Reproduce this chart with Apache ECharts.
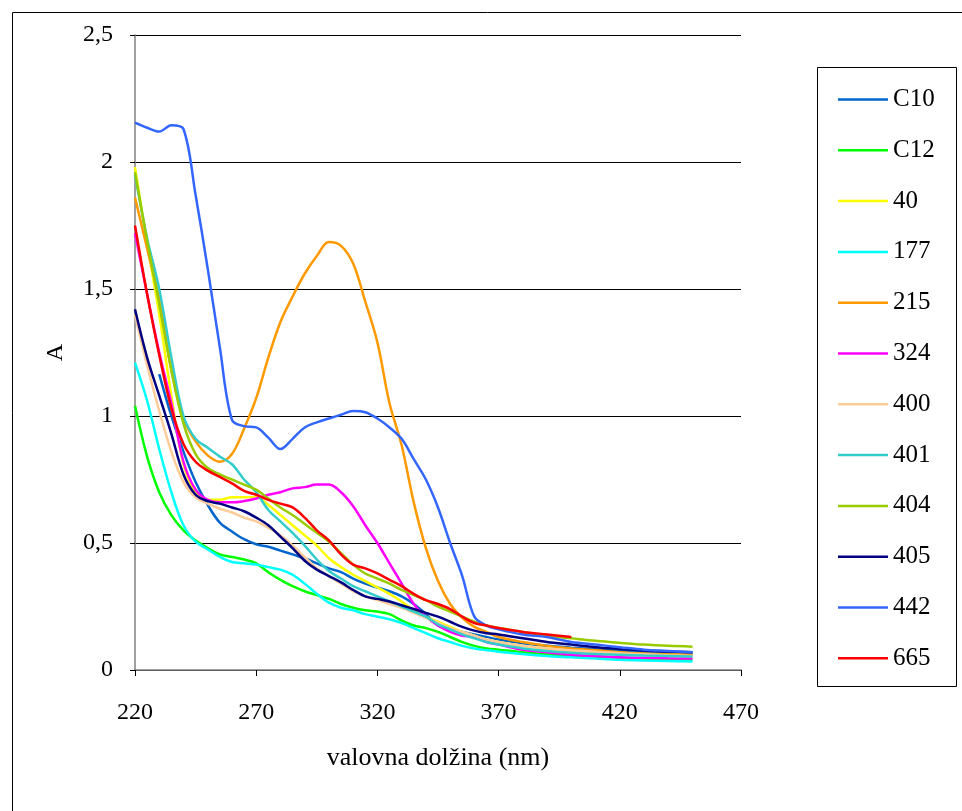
<!DOCTYPE html>
<html>
<head>
<meta charset="utf-8">
<script src="https://cdn.jsdelivr.net/npm/echarts@6/dist/echarts.min.js"></script>
<style>
html,body{margin:0;padding:0;background:#fff;}
#chart{width:962px;height:811px;}
</style>
</head>
<body>
<div id="chart"></div>
<script>
// wavelength grid (nm)
const wavelengths = [220,225,230,235,240,245,250,255,260,265,270,275,280,285,290,295,300,305,310,315,320,325,330,335,340,345,350,355,360,365,370,380,390,400,410,420,430,440,450];

const sC10 = [null,null,1.165,1.00,0.86,0.74,0.65,0.58,0.545,0.515,0.495,0.485,0.47,0.455,0.44,0.42,0.40,0.385,0.36,0.34,0.325,0.31,0.29,0.26,0.22,0.175,0.16,0.15,0.14,0.13,0.12,0.105,0.095,0.088,0.082,0.077,0.072,0.068,0.065];
const sC12 = [1.04,0.84,0.70,0.61,0.55,0.51,0.48,0.455,0.445,0.435,0.42,0.385,0.355,0.33,0.31,0.295,0.28,0.26,0.245,0.235,0.23,0.22,0.195,0.175,0.165,0.15,0.13,0.11,0.095,0.085,0.08,0.07,0.062,0.057,0.052,0.048,0.045,0.043,0.04];
const s40 = [1.98,1.68,1.40,1.08,0.81,0.70,0.67,0.67,0.68,0.68,0.68,0.65,0.61,0.57,0.53,0.49,0.44,0.405,0.375,0.35,0.325,0.30,0.27,0.235,0.21,0.19,0.17,0.15,0.135,0.12,0.11,0.095,0.085,0.078,0.072,0.067,0.063,0.06,0.057];
const s177 = [1.21,1.06,0.87,0.70,0.57,0.505,0.475,0.445,0.425,0.42,0.415,0.405,0.395,0.375,0.34,0.30,0.265,0.245,0.235,0.22,0.21,0.20,0.185,0.165,0.145,0.125,0.11,0.095,0.085,0.078,0.072,0.063,0.055,0.05,0.045,0.04,0.037,0.035,0.033];
const s215 = [1.86,1.66,1.46,1.18,0.99,0.90,0.845,0.82,0.85,0.95,1.07,1.23,1.37,1.47,1.56,1.63,1.685,1.67,1.60,1.45,1.29,1.05,0.885,0.66,0.48,0.35,0.26,0.205,0.17,0.15,0.13,0.11,0.095,0.085,0.078,0.07,0.065,0.062,0.06];
const s324 = [1.72,1.48,1.25,1.05,0.82,0.71,0.67,0.66,0.66,0.665,0.675,0.69,0.70,0.715,0.72,0.73,0.73,0.70,0.645,0.57,0.50,0.42,0.34,0.26,0.21,0.175,0.15,0.135,0.13,0.11,0.10,0.08,0.07,0.06,0.055,0.05,0.048,0.046,0.045];
const s400 = [1.40,1.20,1.02,0.86,0.74,0.68,0.655,0.635,0.62,0.60,0.585,0.56,0.53,0.49,0.445,0.40,0.37,0.34,0.31,0.29,0.275,0.26,0.245,0.225,0.205,0.185,0.165,0.15,0.135,0.12,0.11,0.095,0.085,0.078,0.072,0.066,0.062,0.058,0.055];
const s401 = [1.95,1.70,1.50,1.23,1.00,0.91,0.875,0.84,0.81,0.75,0.70,0.63,0.585,0.54,0.49,0.435,0.39,0.36,0.33,0.31,0.29,0.27,0.25,0.23,0.21,0.18,0.16,0.14,0.125,0.11,0.10,0.085,0.075,0.068,0.063,0.06,0.057,0.055,0.053];
const s404 = [1.96,1.69,1.44,1.18,0.97,0.85,0.795,0.77,0.75,0.73,0.71,0.675,0.64,0.61,0.575,0.54,0.505,0.46,0.415,0.38,0.36,0.34,0.315,0.295,0.275,0.25,0.23,0.21,0.19,0.175,0.165,0.15,0.135,0.125,0.115,0.107,0.10,0.095,0.092];
const s405 = [1.42,1.23,1.08,0.93,0.77,0.69,0.665,0.655,0.64,0.625,0.60,0.57,0.525,0.48,0.43,0.395,0.37,0.345,0.315,0.29,0.28,0.27,0.255,0.24,0.225,0.21,0.19,0.17,0.155,0.145,0.14,0.125,0.11,0.10,0.09,0.083,0.077,0.073,0.07];
const s442 = [2.155,2.135,2.12,2.145,2.13,1.87,1.58,1.27,0.985,0.96,0.955,0.915,0.87,0.91,0.955,0.975,0.99,1.005,1.02,1.015,0.99,0.955,0.91,0.83,0.75,0.64,0.50,0.37,0.21,0.175,0.16,0.14,0.13,0.11,0.10,0.09,0.08,0.075,0.07];
const s665 = [1.75,1.48,1.24,1.03,0.89,0.82,0.785,0.76,0.735,0.705,0.69,0.67,0.655,0.64,0.60,0.55,0.51,0.455,0.415,0.40,0.38,0.355,0.33,0.30,0.275,0.26,0.24,0.21,0.185,0.175,0.165,0.15,0.14,0.13,null,null,null,null,null];

const seriesNames = ['C10','C12','40','177','215','324','400','401','404','405','442','665'];
const seriesValues = [sC10,sC12,s40,s177,s215,s324,s400,s401,s404,s405,s442,s665];
const seriesColors = ['#0066cc','#00ff00','#ffff00','#00ffff','#ff9900','#ff00ff','#ffcc99','#33cccc','#99cc00','#000080','#3366ff','#ff0000'];

const xTicks = {min:220,max:470,interval:50};
const yTicks = {min:0,max:2.5,interval:0.5};

const FONT = '"Liberation Serif","Times New Roman",serif';

const chart = echarts.init(document.getElementById('chart'), null, {renderer:'canvas'});

const series = seriesNames.map((n,i)=>({
  name:n,
  type:'line',
  data: wavelengths.map((w,j)=> seriesValues[i][j]==null ? null : [w, seriesValues[i][j]]).filter(p=>p!==null),
  smooth:0.35,
  showSymbol:false,
  symbol:'none',
  lineStyle:{color:seriesColors[i],width:2.5},
  itemStyle:{color:seriesColors[i]},
  animation:false
}));

chart.setOption({
  backgroundColor:'#ffffff',
  animation:false,
  grid:{left:135,right:221,top:35,bottom:141,containLabel:false},
  xAxis:{
    type:'value', min:xTicks.min, max:xTicks.max, interval:xTicks.interval,
    name:'valovna dolžina (nm)', nameLocation:'middle', nameGap:75,
    nameTextStyle:{fontFamily:FONT,fontSize:26,color:'#000'},
    axisLine:{show:true,lineStyle:{color:'#808080',width:1.5}},
    axisTick:{show:true,inside:false,length:6,lineStyle:{color:'#000'}},
    axisLabel:{fontFamily:FONT,fontSize:24,color:'#000',margin:31},
    splitLine:{show:false}
  },
  yAxis:{
    type:'value', min:yTicks.min, max:yTicks.max, interval:yTicks.interval,
    name:'A', nameLocation:'middle', nameGap:67, nameRotate:90,
    nameTextStyle:{fontFamily:FONT,fontSize:24,color:'#000'},
    axisLine:{show:true,lineStyle:{color:'#808080',width:1.5}},
    axisTick:{show:true,inside:false,length:5,lineStyle:{color:'#000'}},
    axisLabel:{fontFamily:FONT,fontSize:24,color:'#000',margin:22,
      formatter:v=>String(v).replace('.',',')},
    splitLine:{show:true,lineStyle:{color:'#000',width:1}}
  },
  legend:{
    orient:'vertical', left:838, top:87, padding:0,
    icon:'rect', itemWidth:50, itemHeight:2.5, itemGap:25.8,
    data:seriesNames,
    textStyle:{fontFamily:FONT,fontSize:25,color:'#000'}
  },
  graphic:[
    {type:'rect',shape:{x:12.5,y:12.5,width:960,height:820},style:{fill:null,stroke:'#000',lineWidth:1},silent:true,z:-1},
    {type:'rect',shape:{x:817.5,y:67.5,width:139,height:619},style:{fill:null,stroke:'#000',lineWidth:1},silent:true}
  ],
  series:series
});
</script>
</body>
</html>
